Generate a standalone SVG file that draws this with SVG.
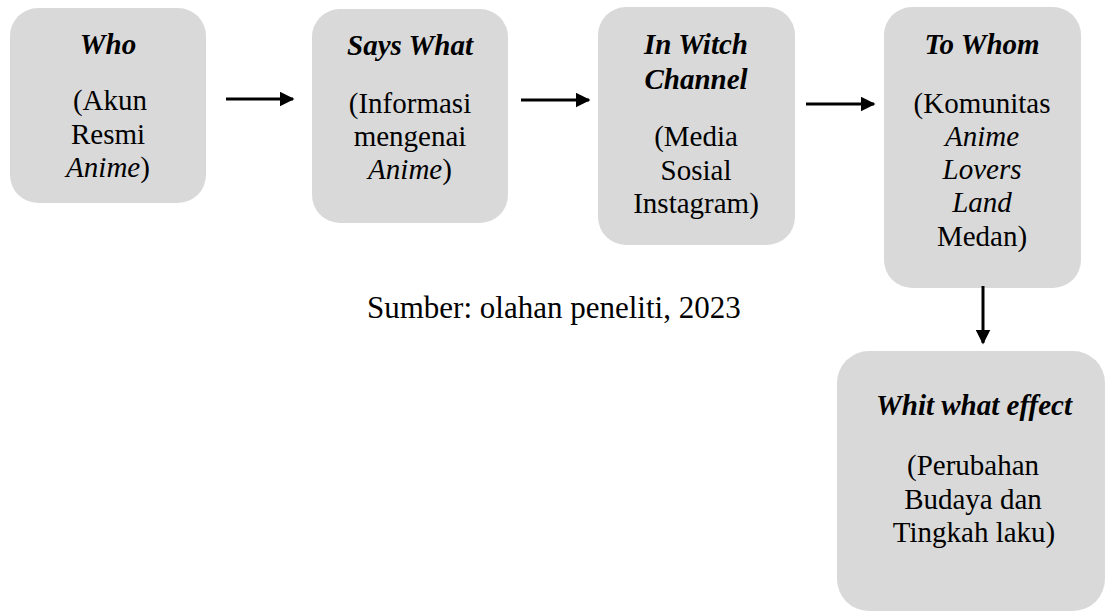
<svg xmlns="http://www.w3.org/2000/svg" width="1105" height="611" viewBox="0 0 1105 611">
<style>
.box{fill:#d9d9d9}
text{font-family:'Liberation Serif','Times New Roman',serif;fill:#000}
.t{font-size:29px;text-anchor:middle}
.h{font-weight:bold;font-style:italic}
.i{font-style:italic}
.cap{font-size:31px}
.c{stroke:#000;stroke-width:3;fill:none}
</style>
<defs>
<marker id="ah" markerWidth="5" markerHeight="5" refX="4.5" refY="2.5" orient="auto" markerUnits="strokeWidth">
<path d="M0,0 L5,2.5 L0,5 Z" fill="#000"/>
</marker>
</defs>
<rect width="1105" height="611" fill="#fff"/>
<g id="who">
<rect class="box" x="10" y="8" width="196" height="195" rx="28"/>
<text class="t h" x="108" y="54">Who</text>
<text class="t" x="110" y="110">(Akun</text>
<text class="t" x="108" y="144">Resmi</text>
<text class="t" x="108" y="177"><tspan class="i">Anime</tspan>)</text>
</g>
<g id="says-what">
<rect class="box" x="312" y="9" width="196" height="214" rx="28"/>
<text class="t h" x="410" y="55">Says What</text>
<text class="t" x="410" y="113">(Informasi</text>
<text class="t" x="410" y="146">mengenai</text>
<text class="t" x="410" y="179"><tspan class="i">Anime</tspan>)</text>
</g>
<g id="channel">
<rect class="box" x="598" y="7" width="197" height="238" rx="28"/>
<text class="t h" x="696" y="54">In Witch</text>
<text class="t h" x="696" y="89">Channel</text>
<text class="t" x="696" y="146">(Media</text>
<text class="t" x="696" y="180">Sosial</text>
<text class="t" x="696" y="213">Instagram)</text>
</g>
<g id="to-whom">
<rect class="box" x="884" y="7" width="197" height="281" rx="28"/>
<text class="t h" x="982" y="54">To Whom</text>
<text class="t" x="982" y="113">(Komunitas</text>
<text class="t i" x="982" y="146">Anime</text>
<text class="t i" x="982" y="179">Lovers</text>
<text class="t i" x="982" y="212">Land</text>
<text class="t" x="982" y="246">Medan)</text>
</g>
<g id="effect">
<rect class="box" x="837" y="351" width="268" height="260" rx="32"/>
<text class="t h" x="974" y="415">Whit what effect</text>
<text class="t" x="973" y="475">(Perubahan</text>
<text class="t" x="973" y="509">Budaya dan</text>
<text class="t" x="974" y="542">Tingkah laku)</text>
</g>
<g id="caption">
<text class="cap" x="367" y="318">Sumber: olahan peneliti, 2023</text>
</g>
<g id="connectors">
<line class="c" x1="226" y1="99" x2="293" y2="99" marker-end="url(#ah)"/>
<line class="c" x1="521" y1="100" x2="589" y2="100" marker-end="url(#ah)"/>
<line class="c" x1="806" y1="104" x2="874" y2="104" marker-end="url(#ah)"/>
<line class="c" x1="983" y1="286" x2="983" y2="343" marker-end="url(#ah)"/>
</g>
</svg>
